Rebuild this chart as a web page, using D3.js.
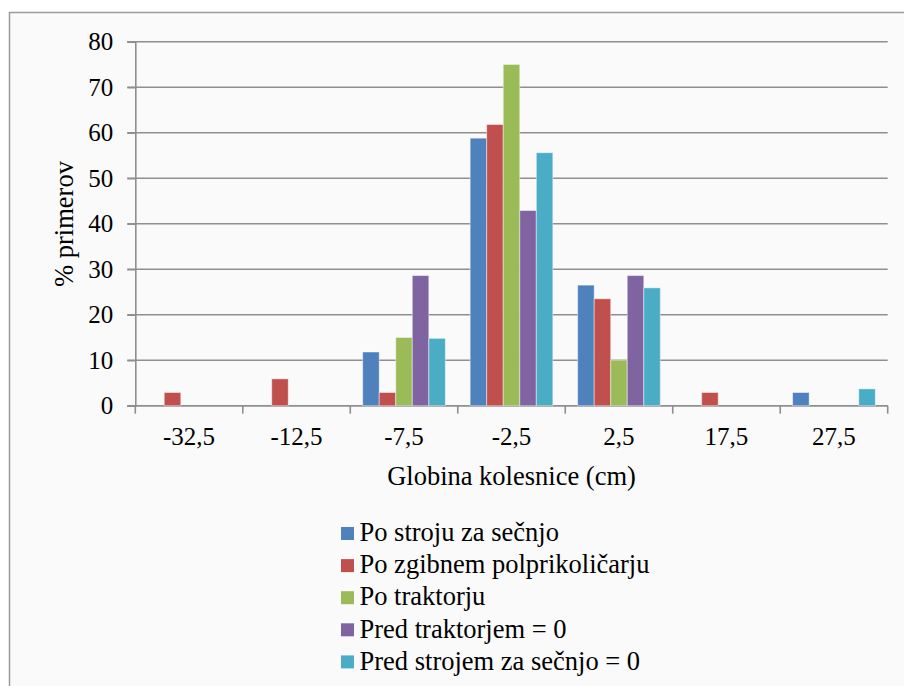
<!DOCTYPE html>
<html>
<head>
<meta charset="utf-8">
<script src="https://cdn.jsdelivr.net/npm/d3@7/dist/d3.min.js"></script>
<style>
  html, body { margin: 0; padding: 0; background: #ffffff; }
  svg { display: block; }
  svg text { font-family: "Liberation Serif", "DejaVu Serif", "Noto Serif", "Times New Roman", Times, serif !important; fill: #000; }
</style>
</head>
<body>
<script>
// Rut depth classes (cm)
const categories = ["-32,5", "-12,5", "-7,5", "-2,5", "2,5", "17,5", "27,5"];

// Share of samples (%) per rut depth class, one array per measurement position
const poStroju        = [0,   0,   11.8, 58.8, 26.5, 0,   2.9];
const poZgibnem       = [2.9, 5.9, 2.9,  61.8, 23.5, 2.9, 0];
const poTraktorju     = [0,   0,   15.0, 75.0, 10.0, 0,   0];
const predTraktorjem  = [0,   0,   28.6, 42.9, 28.6, 0,   0];
const predStrojem     = [0,   0,   14.8, 55.6, 25.9, 0,   3.7];

const seriesNames = [
  "Po stroju za sečnjo",
  "Po zgibnem polprikoličarju",
  "Po traktorju",
  "Pred traktorjem = 0",
  "Pred strojem za sečnjo = 0"
];
const seriesColors = ["#4F81BD", "#C0504D", "#9BBB59", "#8064A2", "#4BACC6"];
const seriesValues = [poStroju, poZgibnem, poTraktorju, predTraktorjem, predStrojem];

const yTicks = [0, 10, 20, 30, 40, 50, 60, 70, 80];

const W = 904, H = 686;
const FONT = "'Liberation Serif', 'DejaVu Serif', 'Noto Serif', 'Times New Roman', Times, serif";
const TICK_SIZE = 25, LABEL_SIZE = 26.5;
const svg = d3.select("body").append("svg").attr("width", W).attr("height", H);

// chart frame
svg.append("rect")
  .attr("x", 9.5).attr("y", 12.5)
  .attr("width", W + 10).attr("height", H + 10)
  .attr("fill", "#fafafa")
  .attr("stroke", "#9a9a9a").attr("stroke-width", 1.5);

const plot = { left: 135.3, right: 887.7, top: 41.7, bottom: 405.7 };

const x = d3.scaleBand().domain(categories).range([plot.left, plot.right]).padding(0);
const bw = x.bandwidth() / 6.5;
const xs = d3.scaleBand().domain(d3.range(seriesNames.length))
  .range([0.75 * bw, x.bandwidth() - 0.75 * bw]).padding(0);
const y = d3.scaleLinear().domain([0, 80]).range([plot.bottom, plot.top]);

// horizontal grid lines
svg.append("g")
  .selectAll("line").data(yTicks).join("line")
  .attr("x1", plot.left - 8).attr("x2", plot.right)
  .attr("y1", d => y(d)).attr("y2", d => y(d))
  .attr("stroke", "#8f8f8f").attr("stroke-width", 1.6);

// y axis
const yAxis = svg.append("g")
  .attr("transform", `translate(${plot.left},0)`)
  .call(d3.axisLeft(y).tickValues(yTicks).tickSize(8).tickPadding(14).tickFormat(d3.format("d")));
yAxis.attr("font-family", FONT).attr("font-size", TICK_SIZE);
yAxis.select(".domain").attr("stroke", "#8f8f8f").attr("stroke-width", 1.6);
yAxis.selectAll(".tick line").attr("stroke", "#8f8f8f").attr("stroke-width", 1.6);
yAxis.selectAll(".tick text").attr("font-size", TICK_SIZE).attr("font-family", FONT).attr("fill", "#000");

// x axis with ticks at the class boundaries
const xAxisG = svg.append("g").attr("transform", `translate(0,${plot.bottom})`);
xAxisG.append("line")
  .attr("x1", plot.left).attr("x2", plot.right)
  .attr("stroke", "#8f8f8f").attr("stroke-width", 1.6);
const boundaries = categories.map(c => x(c)).concat([plot.right]);
xAxisG.selectAll("line.tk").data(boundaries).join("line")
  .attr("class", "tk")
  .attr("x1", d => d).attr("x2", d => d)
  .attr("y1", 0).attr("y2", 8)
  .attr("stroke", "#8f8f8f").attr("stroke-width", 1.6);
xAxisG.selectAll("text").data(categories).join("text")
  .attr("x", d => x(d) + x.bandwidth() / 2)
  .attr("y", 39.5)
  .attr("text-anchor", "middle")
  .attr("font-family", FONT)
  .attr("font-size", TICK_SIZE)
  .text(d => d);

// bars
const groups = svg.append("g").selectAll("g").data(categories).join("g")
  .attr("transform", d => `translate(${x(d)},0)`);
groups.selectAll("rect")
  .data((c, ci) => seriesValues.map((vals, si) => ({ si, v: vals[ci] })).filter(d => d.v > 0))
  .join("rect")
  .attr("x", d => xs(d.si))
  .attr("width", xs.bandwidth())
  .attr("y", d => y(d.v))
  .attr("height", d => y(0) - y(d.v))
  .attr("fill", d => seriesColors[d.si])
  .attr("stroke", "rgba(255,255,255,0.45)")
  .attr("stroke-width", 1);

// axis titles
svg.append("text")
  .attr("x", (plot.left + plot.right) / 2)
  .attr("y", 485)
  .attr("text-anchor", "middle")
  .attr("font-family", FONT)
  .attr("font-size", LABEL_SIZE)
  .text("Globina kolesnice (cm)");

svg.append("text")
  .attr("transform", "translate(73,224) rotate(-90)")
  .attr("text-anchor", "middle")
  .attr("font-family", FONT)
  .attr("font-size", LABEL_SIZE)
  .text("% primerov");

// legend
const legend = svg.append("g").attr("transform", "translate(341,527)");
const rows = legend.selectAll("g").data(seriesNames).join("g")
  .attr("transform", (d, i) => `translate(0,${i * 32.1})`);
rows.append("rect")
  .attr("width", 13).attr("height", 13)
  .attr("fill", (d, i) => seriesColors[i]);
rows.append("text")
  .attr("x", 18.5).attr("y", 14.2)
  .attr("font-family", FONT)
  .attr("font-size", LABEL_SIZE)
  .text(d => d);
</script>
</body>
</html>
